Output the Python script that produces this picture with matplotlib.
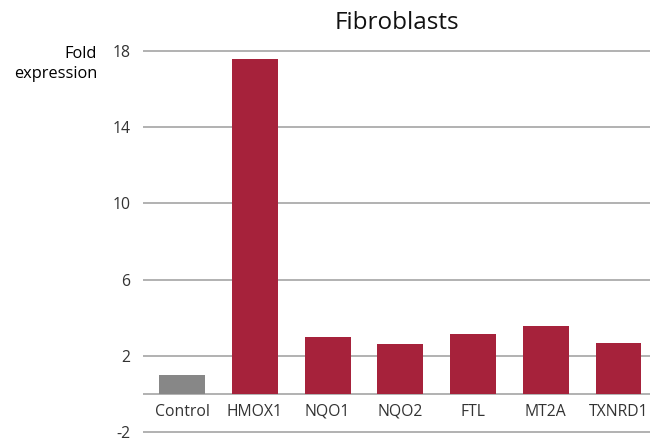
import matplotlib
matplotlib.use("Agg")
import matplotlib.pyplot as plt

genes = ["Control", "HMOX1", "NQO1", "NQO2", "FTL", "MT2A", "TXNRD1"]
fold = [1.0, 17.6, 3.0, 2.6, 3.15, 3.55, 2.65]
bar_colors = ["#878787"] + ["#A6223B"] * 6
yticks = [-2, 2, 6, 10, 14, 18]

plt.rcParams['font.family'] = ['Open Sans', 'DejaVu Sans']
text_color = "#333333"
grid_color = "#ababab"

fig = plt.figure(figsize=(6.65, 4.41), dpi=100)
ax = fig.add_axes([0.215, 0.0188, 0.762, 0.867])

for y in yticks + [0]:
    ax.axhline(y, color=grid_color, linewidth=1.3, zorder=1)

x = list(range(len(genes)))
ax.bar(x, fold, width=0.63, color=bar_colors, zorder=2)

for i, name in enumerate(genes):
    ax.text(i, -0.95, name, ha="center", va="center", fontsize=11.3, color=text_color)

ax.set_xlim(-0.54, 6.43)
ax.set_ylim(-2.05, 18.05)
ax.set_yticks(yticks)
ax.set_yticklabels([str(v) for v in yticks], fontsize=11.3, color=text_color)
ax.tick_params(axis="y", length=0, pad=9)
ax.set_xticks([])
for spine in ax.spines.values():
    spine.set_visible(False)

fig.text(0.597, 0.948, "Fibroblasts", ha="center", va="center", fontsize=17.5, color="#111111")
fig.text(0.146, 0.855, "Fold\nexpression", ha="right", va="center", fontsize=11.8,
         color="#000000", linespacing=1.3)

plt.savefig("out.png", dpi=100)
